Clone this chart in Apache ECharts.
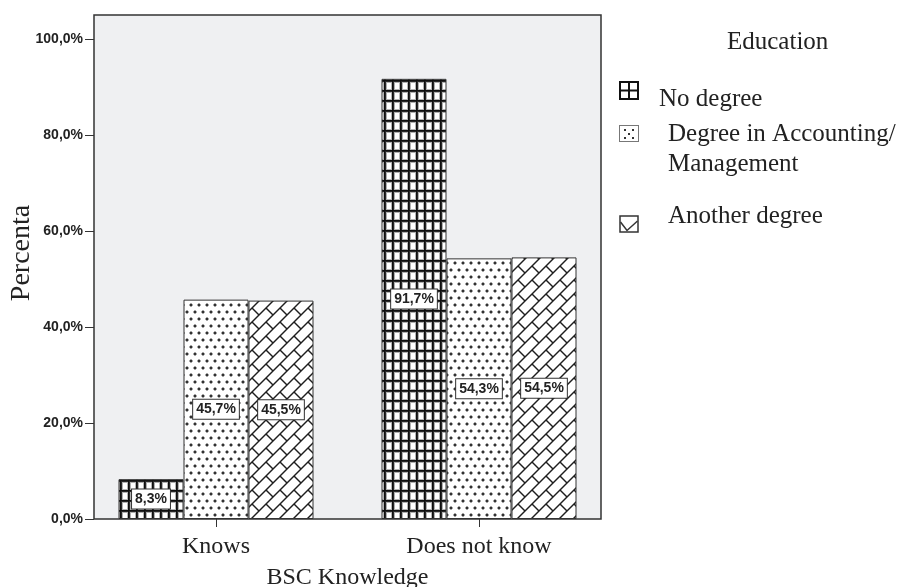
<!DOCTYPE html>
<html><head><meta charset="utf-8">
<script src="https://cdn.jsdelivr.net/npm/echarts@6/dist/echarts.min.js"></script>
<style>html,body{margin:0;padding:0;background:#fff}#c{width:900px;height:587px}</style>
</head><body><div id="c"></div>
<script>
// ---- data ----
const categories = ['Knows', 'Does not know'];
const seriesNames = ['No degree', 'Degree in Accounting/\nManagement', 'Another degree'];
const noDegree = [8.3, 91.7];
const degreeAccounting = [45.7, 54.3];
const anotherDegree = [45.5, 54.5];
const yTicks = [0, 20, 40, 60, 80, 100];

// ---- pattern tiles ----
function tile(w, h, fn) {
  const c = document.createElement('canvas'); c.width = w; c.height = h;
  const ctx = c.getContext('2d'); const img = ctx.createImageData(w, h);
  for (let y = 0; y < h; y++) for (let x = 0; x < w; x++) {
    const v = fn(x, y); const i = (y * w + x) * 4;
    img.data[i] = img.data[i + 1] = img.data[i + 2] = v; img.data[i + 3] = 255;
  }
  ctx.putImageData(img, 0, 0); return c;
}
const gx = [15, 40, 175, 255, 255, 255, 255, 180];
const gy = [15, 40, 175, 255, 255, 255, 255, 255, 255, 180];
const gridTile = tile(8, 10, (x, y) => Math.min(gx[x], gy[y]));

function wrapDist(a, b, p) { let d = Math.abs(a - b) % p; return Math.min(d, p - d); }
const dotTile = tile(8, 14, (x, y) => {
  const cx = x + 0.5, cy = y + 0.5;
  const d1 = Math.hypot(wrapDist(cx, 3, 8), wrapDist(cy, 4, 14));
  const d2 = Math.hypot(wrapDist(cx, 7, 8), wrapDist(cy, 11, 14));
  const d = Math.min(d1, d2);
  return d < 1 ? 50 : d < 1.6 ? 170 : 255;
});

const S = 14, D = 28;
const brickTile = tile(28, 28, (x, y) => {
  const s = x + y + 1, dd = x - y + 28;
  const r = Math.floor(s / S) % 2;
  const dl = wrapDist(s, 0, S) / Math.SQRT2;
  const dc = wrapDist(dd, r * D / 2, D) / Math.SQRT2;
  const d = Math.min(dl, dc);
  return d < 0.7 ? 30 : d < 1.2 ? 140 : 255;
});

// ---- legend icons ----
function icon(w, h, draw) {
  const c = document.createElement('canvas'); c.width = w; c.height = h;
  const ctx = c.getContext('2d'); ctx.fillStyle = '#fff'; ctx.fillRect(0, 0, w, h);
  draw(ctx); return 'image://' + c.toDataURL();
}
const iconGrid = icon(20, 19, ctx => {
  ctx.strokeStyle = '#111'; ctx.lineWidth = 2;
  ctx.strokeRect(1, 1, 18, 17);
  ctx.beginPath(); ctx.moveTo(10, 1); ctx.lineTo(10, 18); ctx.moveTo(1, 9.5); ctx.lineTo(19, 9.5); ctx.stroke();
});
const iconDots = icon(20, 17, ctx => {
  ctx.strokeStyle = '#777'; ctx.lineWidth = 1; ctx.strokeRect(0.5, 0.5, 19, 16);
  ctx.fillStyle = '#333';
  [[5, 4], [13, 4], [9, 8], [5, 12], [13, 12]].forEach(p => ctx.fillRect(p[0], p[1], 2, 2));
});
const iconBrick = icon(20, 18, ctx => {
  ctx.strokeStyle = '#333'; ctx.lineWidth = 1.5; ctx.strokeRect(1, 1, 18, 16);
  ctx.beginPath(); ctx.moveTo(1.5, 7); ctx.lineTo(8, 15.5); ctx.lineTo(18.5, 6); ctx.stroke();
});

const serif = 'Liberation Serif';
const sans = 'Liberation Sans';
const pct = v => v.toFixed(1).replace('.', ',') + '%';

// legend text laid out with spacer lines so text sits offset from its icon like the reference
function legendItem(name, ic, w, h, top, padLeft, formatter, lineHeight) {
  return {
    data: [{ name: name, icon: ic }], left: 619, top: top, padding: 0,
    itemWidth: w, itemHeight: h, selectedMode: false,
    formatter: formatter,
    textStyle: { fontFamily: serif, fontSize: 25, color: '#222', padding: [0, 0, 0, padLeft],
      rich: {
        t: { fontFamily: serif, fontSize: 25, color: '#222', lineHeight: lineHeight },
        s18: { fontSize: 1, lineHeight: 18 },
        s32: { fontSize: 1, lineHeight: 32 },
        s16: { fontSize: 1, lineHeight: 16 }
      } }
  };
}

const patterns = [gridTile, dotTile, brickTile];
const values = [noDegree, degreeAccounting, anotherDegree];

const option = {
  animation: false,
  title: { text: 'Education', left: 727, top: 30, padding: 0,
    textStyle: { fontFamily: serif, fontSize: 25, fontWeight: 'normal', color: '#222', lineHeight: 25 } },
  legend: [
    legendItem(seriesNames[0], iconGrid, 20, 19, 77.5, 15, n => '{s18| }\n{t|' + n + '}', 25),
    legendItem(seriesNames[1], iconDots, 20, 17, 103, 24,
      n => '{s32| }\n' + n.split('\n').map(l => '{t|' + l + '}').join('\n'), 30),
    legendItem(seriesNames[2], iconBrick, 20, 18, 203.5, 24, n => '{t|' + n + '}\n{s16| }', 25)
  ],
  grid: [
    { left: 94, right: 299, top: 15, bottom: 68, containLabel: false, outerBoundsMode: 'none',
      show: true, backgroundColor: '#eff0f2', borderColor: '#333', borderWidth: 1.5 },
    { left: 84.5, right: 289.5, top: 15, bottom: 68, containLabel: false, outerBoundsMode: 'none' }
  ],
  xAxis: [
    { gridIndex: 0, type: 'value', show: false, min: 0, max: 1 },
    { gridIndex: 1, type: 'category', data: categories,
      axisLine: { show: false },
      axisTick: { show: true, alignWithLabel: true, length: 8, lineStyle: { color: '#333' } },
      axisLabel: { fontFamily: serif, fontSize: 24, color: '#222', margin: 16 },
      name: 'BSC Knowledge', nameLocation: 'middle', nameGap: 47, nameMoveOverlap: false,
      nameTextStyle: { fontFamily: serif, fontSize: 24, color: '#222' } }
  ],
  yAxis: [
    { gridIndex: 0, type: 'value', min: 0, max: 105,
      axisLine: { show: false }, splitLine: { show: false },
      axisTick: { show: true, length: 9, customValues: yTicks, lineStyle: { color: '#333' } },
      axisLabel: { customValues: yTicks, formatter: v => pct(v), margin: 11,
        fontFamily: sans, fontWeight: 'bold', fontSize: 14, color: '#222' },
      name: 'Percenta', nameLocation: 'middle', nameGap: 58, nameMoveOverlap: false,
      nameTextStyle: { fontFamily: serif, fontSize: 28, color: '#222', padding: [0, 0, 0, 28] } },
    { gridIndex: 1, type: 'value', min: 0, max: 105, show: false }
  ],
  series: seriesNames.map((n, i) => ({
    name: n, type: 'bar', xAxisIndex: 1, yAxisIndex: 1,
    data: values[i], barWidth: 65, barGap: '0%',
    itemStyle: { color: { image: patterns[i], repeat: 'repeat' }, borderColor: '#333', borderWidth: 1 },
    label: { show: true, position: 'inside', formatter: p => pct(p.value),
      fontFamily: sans, fontWeight: 'bold', fontSize: 14, color: '#222',
      backgroundColor: '#fff', borderColor: '#333', borderWidth: 1, padding: [3, 3, 2, 3] }
  }))
};
const chart = echarts.init(document.getElementById('c'));
chart.setOption(option);
</script>
</body></html>
